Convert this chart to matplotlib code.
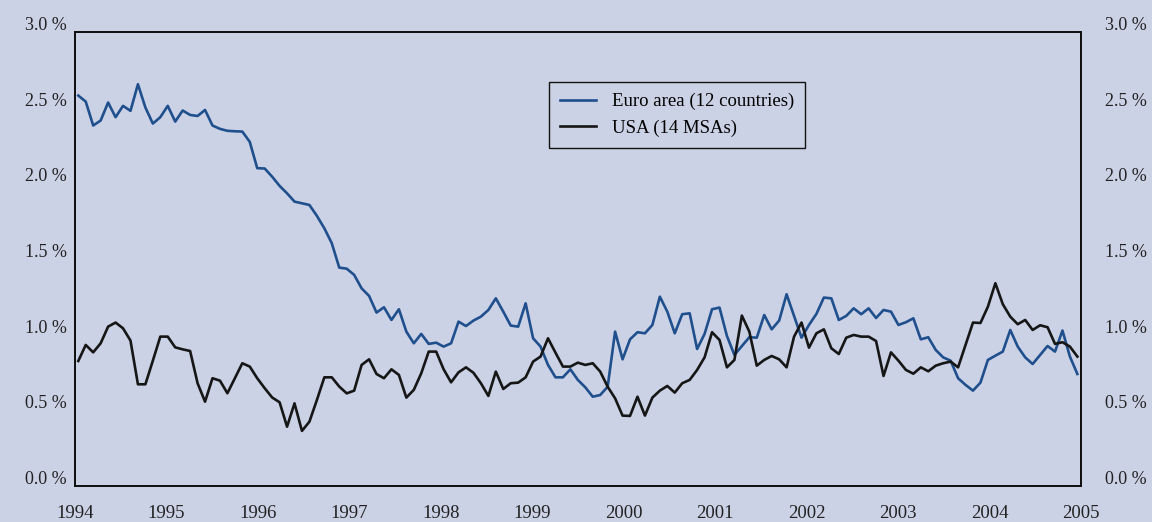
import numpy as np
import matplotlib
matplotlib.use("Agg")
import matplotlib.pyplot as plt
import matplotlib.transforms as mtransforms

# monthly dispersion series, Jan 1994 onwards
euro = [
    2.580, 2.540, 2.382, 2.415, 2.534, 2.437, 2.512, 2.479, 2.655, 2.501,
    2.395, 2.437, 2.512, 2.408, 2.481, 2.452, 2.445, 2.485, 2.382, 2.360,
    2.347, 2.344, 2.342, 2.274, 2.100, 2.098, 2.044,
    1.983, 1.934, 1.879, 1.868, 1.857, 1.785, 1.703, 1.604, 1.443, 1.436,
    1.395, 1.306, 1.256, 1.146, 1.181, 1.097, 1.168, 1.020, 0.943, 1.005,
    0.939, 0.947, 0.921, 0.943, 1.086, 1.057, 1.093,
    1.119, 1.163, 1.240, 1.152, 1.060, 1.053, 1.207, 0.976, 0.921, 0.800,
    0.718, 0.718, 0.771, 0.701, 0.652, 0.590, 0.601, 0.656, 1.020, 0.837,
    0.969, 1.016, 1.009, 1.064, 1.251, 1.152, 1.009,
    1.135, 1.141, 0.905, 1.005, 1.168, 1.179, 0.991, 0.866, 0.925, 0.983,
    0.980, 1.130, 1.035, 1.093, 1.267, 1.124, 0.980, 1.064, 1.137, 1.245,
    1.240, 1.097, 1.124, 1.174, 1.135, 1.174, 1.110,
    1.163, 1.152, 1.064, 1.082, 1.108, 0.969, 0.983, 0.899, 0.850, 0.828,
    0.712, 0.668, 0.630, 0.683, 0.833, 0.861, 0.888, 1.031, 0.921, 0.850,
    0.806, 0.866, 0.925, 0.888, 1.027, 0.855, 0.740,
]

usa = [
    0.826, 0.932, 0.883, 0.943, 1.053, 1.080, 1.042, 0.961, 0.672, 0.672,
    0.828, 0.987, 0.987, 0.916, 0.903, 0.892, 0.679, 0.557, 0.712, 0.696,
    0.613, 0.712, 0.811, 0.789, 0.712, 0.646, 0.585,
    0.553, 0.392, 0.546, 0.364, 0.425, 0.568, 0.718, 0.718, 0.657, 0.612,
    0.630, 0.800, 0.837, 0.740, 0.712, 0.771, 0.734, 0.584, 0.635, 0.745,
    0.888, 0.888, 0.771, 0.685, 0.751, 0.784, 0.748,
    0.679, 0.595, 0.756, 0.641, 0.679, 0.683, 0.718, 0.822, 0.855, 0.976,
    0.881, 0.789, 0.789, 0.815, 0.800, 0.811, 0.756, 0.656, 0.579, 0.465,
    0.463, 0.590, 0.465, 0.584, 0.630, 0.661, 0.617,
    0.679, 0.701, 0.767, 0.850, 1.016, 0.965, 0.784, 0.833, 1.126, 1.020,
    0.795, 0.833, 0.859, 0.837, 0.784, 0.987, 1.080, 0.914, 1.009, 1.035,
    0.910, 0.872, 0.980, 0.998, 0.987, 0.987, 0.958,
    0.727, 0.883, 0.828, 0.767, 0.742, 0.784, 0.758, 0.795, 0.811, 0.822,
    0.784, 0.932, 1.080, 1.077, 1.185, 1.340, 1.201, 1.119, 1.069, 1.097,
    1.031, 1.062, 1.049, 0.939, 0.950, 0.921, 0.855,
]

years = list(range(1994, 2006))
yticks = [0.0, 0.5, 1.0, 1.5, 2.0, 2.5, 3.0]
labels = ["Euro area (12 countries)", "USA (14 MSAs)"]

bg = "#ccd2e6"
blue = "#1f4f8c"
black = "#161616"

plt.rcParams["font.family"] = ["Liberation Serif", "DejaVu Serif"]

t = np.linspace(1994.036, 2004.96, len(euro))

fig = plt.figure(figsize=(11.52, 5.22), dpi=100, facecolor=bg)
ax = fig.add_axes([0.0651, 0.069, 0.8733, 0.8697])
ax.set_facecolor(bg)

ax.plot(t, euro, color=blue, lw=1.9, label=labels[0])
ax.plot(t, usa, color=black, lw=1.9, label=labels[1])

ax.set_xlim(1994, 2005)
ax.set_ylim(0, 3)
ax.set_xticks(years)
ax.set_xticklabels([str(y) for y in years])
ax.set_yticks(yticks)
ax.set_yticklabels([f"{v:.1f} %" for v in yticks])
ax.tick_params(axis="both", length=0, labelsize=13, colors="#222222")
ax.tick_params(axis="x", pad=14, labelsize=13.5)
ax.tick_params(axis="y", pad=6)

# mirrored percentage scale on the right
ax2 = ax.twinx()
ax2.set_ylim(0, 3)
ax2.set_yticks(yticks)
ax2.set_yticklabels([f"{v:.1f} %" for v in yticks])
ax2.tick_params(axis="y", length=0, labelsize=13, colors="#222222", pad=17)

for a in (ax, ax2):
    for s in a.spines.values():
        s.set_color("#111111")
        s.set_linewidth(1.3)

# value labels sit a little above their level
lift = mtransforms.ScaledTranslation(0, 8.5 / 100, fig.dpi_scale_trans)
for lab in ax.get_yticklabels() + ax2.get_yticklabels():
    lab.set_transform(lab.get_transform() + lift)

leg = ax.legend(loc="upper left", bbox_to_anchor=(0.471, 0.8905),
                borderaxespad=0, fontsize=13.5, frameon=True, fancybox=False,
                handlelength=1.9, handletextpad=0.85, borderpad=0.6,
                labelspacing=0.5)
leg.get_frame().set_facecolor(bg)
leg.get_frame().set_edgecolor("#111111")
leg.get_frame().set_linewidth(1.0)
leg.get_frame().set_alpha(1)

fig.savefig("out.png", dpi=100, facecolor=bg)
